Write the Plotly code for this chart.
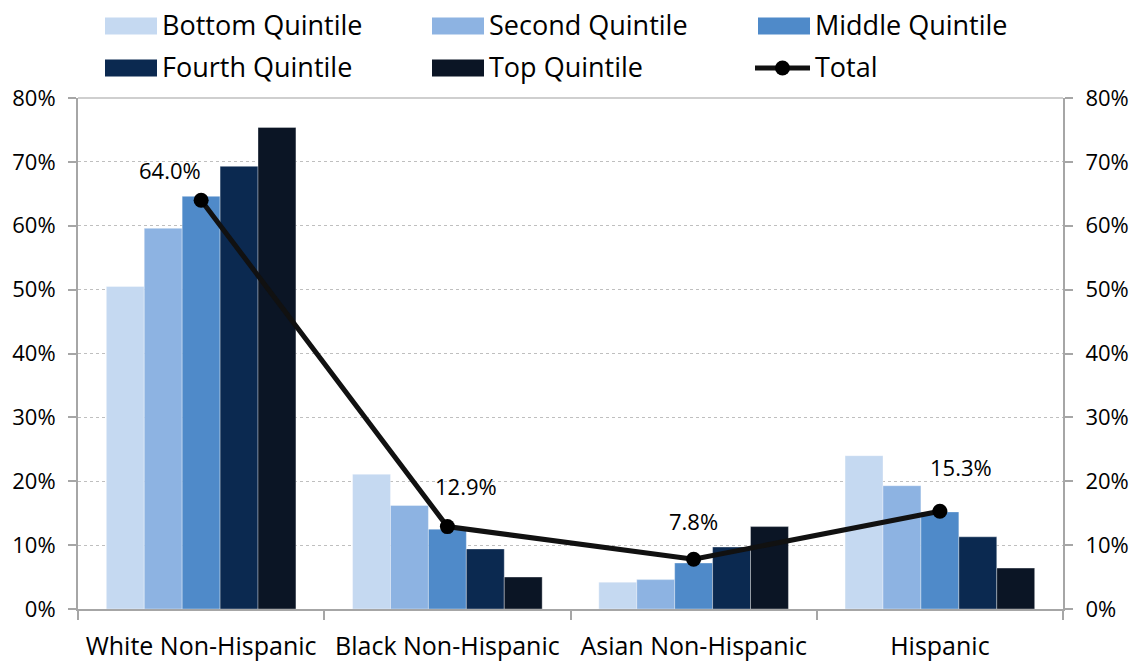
import plotly.graph_objects as go

categories = ["White Non-Hispanic", "Black Non-Hispanic", "Asian Non-Hispanic", "Hispanic"]
bottom_q = [50.5, 21.1, 4.2, 24.0]
second_q = [59.6, 16.2, 4.6, 19.3]
middle_q = [64.6, 12.5, 7.2, 15.2]
fourth_q = [69.3, 9.4, 9.7, 11.3]
top_q = [75.4, 5.0, 12.9, 6.4]
total = [64.0, 12.9, 7.8, 15.3]
total_labels = ["64.0%", "12.9%", "7.8%", "15.3%"]
series_names = ["Bottom Quintile", "Second Quintile", "Middle Quintile", "Fourth Quintile", "Top Quintile"]
series_values = [bottom_q, second_q, middle_q, fourth_q, top_q]
colors = ["#c5d9f1", "#8db3e2", "#4f8ac9", "#0b2950", "#0b1525"]
y_ticks = [0, 10, 20, 30, 40, 50, 60, 70, 80]
y_tick_text = ["0%", "10%", "20%", "30%", "40%", "50%", "60%", "70%", "80%"]

FONT = "Open Sans"
W, H = 1139, 663
L, R, T, B = 78, 76, 98, 54
PW, PH = W - L - R, H - T - B

def px(x):
    return (x - L) / PW

def py(y):
    return (H - B - y) / PH

fig = go.Figure()
for name, vals, c in zip(series_names, series_values, colors):
    fig.add_trace(go.Bar(x=categories, y=vals, name=name,
                         marker=dict(color=c, line=dict(color="rgba(255,255,255,0.35)", width=1)),
                         showlegend=False))

fig.add_trace(go.Scatter(x=categories, y=total, name="Total", mode="lines+markers",
                         line=dict(color="#111111", width=5),
                         marker=dict(color="#000000", size=15),
                         showlegend=False, yaxis="y2"))

# data labels
label_shift = [(-31, 30), (19, 41), (0, 38), (21, 44)]
for cat, v, lab, (dx, dy) in zip(categories, total, total_labels, label_shift):
    fig.add_annotation(x=cat, y=v, yref="y2", text=lab, showarrow=False,
                       xshift=dx, yshift=dy, font=dict(family=FONT, size=22, color="#000000"))

# custom legend
legend_pos = [(105, 26), (432, 26), (758, 26), (105, 68), (432, 68)]
for (x0, yc), name, c in zip(legend_pos, series_names, colors):
    fig.add_shape(type="rect", xref="paper", yref="paper",
                  x0=px(x0), x1=px(x0 + 52), y0=py(yc - 8.5), y1=py(yc + 8.5),
                  fillcolor=c, line=dict(width=0))
    fig.add_annotation(xref="paper", yref="paper", x=px(x0 + 55), y=py(yc - 1.5), text=name,
                       showarrow=False, xanchor="left", yanchor="middle",
                       font=dict(family=FONT, size=27, color="#000000"))
# Total legend item
tx, ty = 758, 68
fig.add_shape(type="line", xref="paper", yref="paper", x0=px(tx - 3), x1=px(tx + 52),
              y0=py(ty), y1=py(ty), line=dict(color="#111111", width=5))
fig.add_shape(type="circle", xref="paper", yref="paper", x0=px(tx + 17), x1=px(tx + 32),
              y0=py(ty + 7.5), y1=py(ty - 7.5), fillcolor="#000000", line=dict(width=0))
fig.add_annotation(xref="paper", yref="paper", x=px(tx + 55), y=py(ty - 1.5), text="Total",
                   showarrow=False, xanchor="left", yanchor="middle",
                   font=dict(family=FONT, size=27, color="#000000"))

# top border line
fig.add_shape(type="line", xref="paper", yref="paper", x0=0, x1=1, y0=1, y1=1,
              line=dict(color="#bfbfbf", width=1.5))

yaxis_common = dict(range=[0, 80], tickmode="array", tickvals=y_ticks, ticktext=y_tick_text,
                    tickfont=dict(family=FONT, size=22, color="#000000"),
                    showline=True, linecolor="#a6a6a6", linewidth=2,
                    ticks="outside", ticklen=8, tickcolor="#a6a6a6", tickwidth=2,
                    zeroline=False, ticklabelstandoff=8, automargin=False)

fig.update_layout(
    width=W, height=H, margin=dict(l=L, r=R, t=T, b=B, autoexpand=False),
    paper_bgcolor="white", plot_bgcolor="white",
    barmode="group", bargap=0.23, bargroupgap=0,
    font=dict(family=FONT, color="#000000"),
    xaxis=dict(type="category", tickson="boundaries", ticks="outside", ticklen=9,
               tickcolor="#a6a6a6", tickwidth=2, showline=True, linecolor="#a6a6a6",
               linewidth=2, tickfont=dict(family=FONT, size=25, color="#000000"),
               showgrid=False, ticklabelstandoff=14, automargin=False),
    yaxis=dict(**yaxis_common, side="left", showgrid=True, gridcolor="#bfbfbf",
               griddash="dot", gridwidth=1),
    yaxis2=dict(**yaxis_common, side="right", overlaying="y", showgrid=False),
)

fig.write_html("out.html")
